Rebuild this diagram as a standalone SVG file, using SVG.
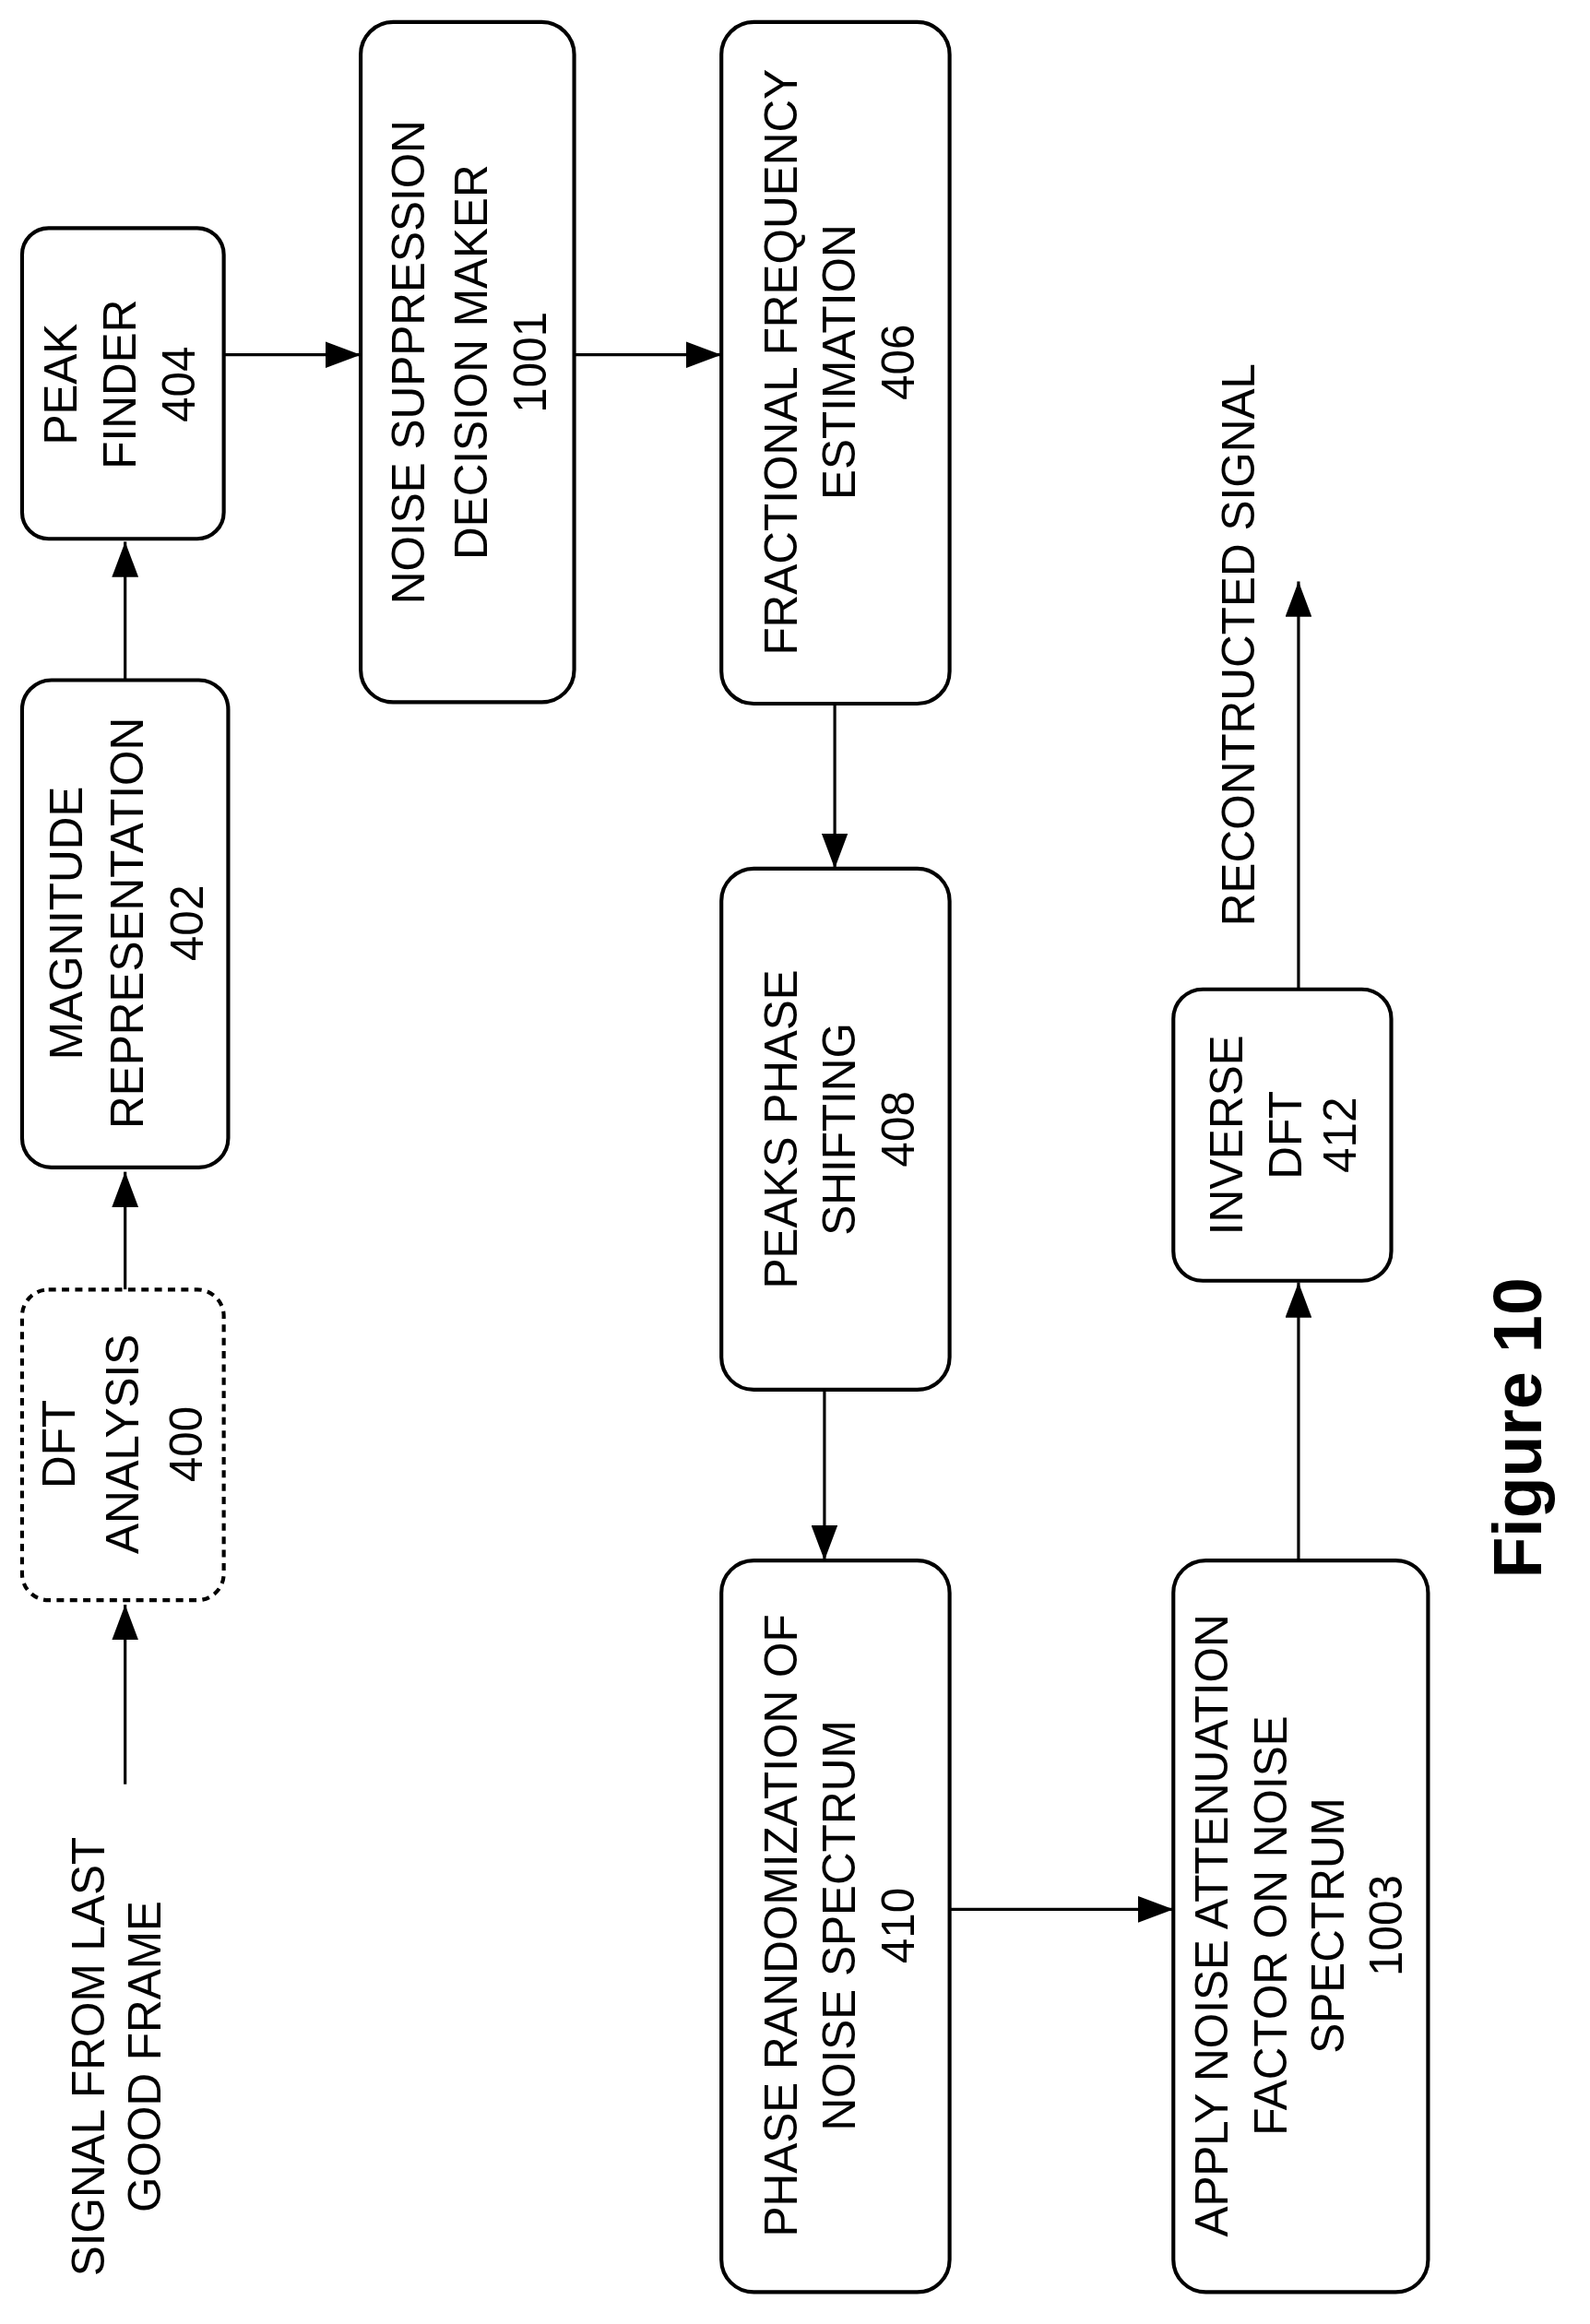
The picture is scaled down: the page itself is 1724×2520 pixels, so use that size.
<svg xmlns="http://www.w3.org/2000/svg" width="1724" height="2520" viewBox="0 0 1724 2520">
<style>
.box{fill:#fff;stroke:#000;stroke-width:2.6}
.dash{stroke-dasharray:5 4}
.t{font-family:"Liberation Sans",Arial,sans-serif;font-size:31px;fill:#000}
.c{stroke:#000;stroke-width:2;fill:none}
</style>
<defs>
<marker id="a" markerUnits="userSpaceOnUse" markerWidth="26" markerHeight="18" refX="24" refY="9" orient="auto">
<path d="M0,0 L24,9 L0,18 z" fill="#000"/>
</marker>
</defs>
<rect width="1724" height="2520" fill="#fff"/>
<g transform="scale(1.5963)">
<g id="connectors">
<line class="c" x1="85" y1="1212" x2="85" y2="1090" marker-end="url(#a)"/>
<line class="c" x1="85" y1="876" x2="85" y2="796" marker-end="url(#a)"/>
<line class="c" x1="85" y1="462" x2="85" y2="368" marker-end="url(#a)"/>
<line class="c" x1="152" y1="241" x2="245" y2="241" marker-end="url(#a)"/>
<line class="c" x1="390" y1="241" x2="490" y2="241" marker-end="url(#a)"/>
<line class="c" x1="567" y1="478" x2="567" y2="590" marker-end="url(#a)"/>
<line class="c" x1="560" y1="944" x2="560" y2="1060" marker-end="url(#a)"/>
<line class="c" x1="645" y1="1297" x2="797" y2="1297" marker-end="url(#a)"/>
<line class="c" x1="882" y1="1060" x2="882" y2="871" marker-end="url(#a)"/>
<line class="c" x1="882" y1="672" x2="882" y2="395" marker-end="url(#a)"/>
</g>
<g id="n400"><rect class="box dash" x="15" y="876" width="137" height="211" rx="18"/>
<text class="t" text-anchor="middle" transform="translate(0,981) rotate(-90)"><tspan x="0" y="51">DFT</tspan><tspan x="0" y="94">ANALYSIS</tspan><tspan x="0" y="137">400</tspan></text></g>
<g id="n402"><rect class="box" x="15" y="462" width="140" height="331" rx="20"/>
<text class="t" text-anchor="middle" transform="translate(0,627) rotate(-90)"><tspan x="0" y="56">MAGNITUDE</tspan><tspan x="0" y="97">REPRESENTATION</tspan><tspan x="0" y="138">402</tspan></text></g>
<g id="n404"><rect class="box" x="15" y="155" width="137" height="211" rx="18"/>
<text class="t" text-anchor="middle" transform="translate(0,261) rotate(-90)"><tspan x="0" y="52">PEAK</tspan><tspan x="0" y="92">FINDER</tspan><tspan x="0" y="132">404</tspan></text></g>
<g id="n1001"><rect class="box" x="245" y="15" width="145" height="462" rx="22"/>
<text class="t" text-anchor="middle" transform="translate(0,246) rotate(-90)"><tspan x="0" y="288">NOISE SUPPRESSION</tspan><tspan x="0" y="331">DECISION MAKER</tspan><tspan x="0" y="371">1001</tspan></text></g>
<g id="n406"><rect class="box" x="490" y="15" width="155" height="463" rx="22"/>
<text class="t" text-anchor="middle" transform="translate(0,246) rotate(-90)"><tspan x="0" y="541">FRACTIONAL FREQUENCY</tspan><tspan x="0" y="581">ESTIMATION</tspan><tspan x="0" y="621">406</tspan></text></g>
<g id="n408"><rect class="box" x="490" y="590" width="155" height="354" rx="22"/>
<text class="t" text-anchor="middle" transform="translate(0,767) rotate(-90)"><tspan x="0" y="541">PEAKS PHASE</tspan><tspan x="0" y="581">SHIFTING</tspan><tspan x="0" y="621">408</tspan></text></g>
<g id="n410"><rect class="box" x="490" y="1060" width="155" height="497" rx="22"/>
<text class="t" text-anchor="middle" transform="translate(0,1308) rotate(-90)"><tspan x="0" y="541">PHASE RANDOMIZATION OF</tspan><tspan x="0" y="581">NOISE SPECTRUM</tspan><tspan x="0" y="621">410</tspan></text></g>
<g id="n1003"><rect class="box" x="797" y="1060" width="173" height="497" rx="22"/>
<text class="t" text-anchor="middle" transform="translate(0,1308) rotate(-90)"><tspan x="0" y="834">APPLY NOISE ATTENUATION</tspan><tspan x="0" y="874">FACTOR ON NOISE</tspan><tspan x="0" y="913">SPECTRUM</tspan><tspan x="0" y="952">1003</tspan></text></g>
<g id="n412"><rect class="box" x="797" y="672" width="148" height="198" rx="20"/>
<text class="t" text-anchor="middle" transform="translate(0,771) rotate(-90)"><tspan x="0" y="844">INVERSE</tspan><tspan x="0" y="884">DFT</tspan><tspan x="0" y="921">412</tspan></text></g>
<g id="input"><text class="t" text-anchor="middle" transform="translate(0,1397) rotate(-90)"><tspan x="0" y="71">SIGNAL FROM LAST</tspan><tspan x="0" y="109">GOOD FRAME</tspan></text></g>
<g id="output"><text class="t" text-anchor="middle" transform="translate(0,438) rotate(-90)"><tspan x="0" y="852">RECONTRUCTED SIGNAL</tspan></text></g>
<text font-family="Liberation Sans,Arial,sans-serif" font-weight="bold" font-size="46" text-anchor="middle" transform="translate(0,970) rotate(-90)"><tspan x="0" y="1047">Figure 10</tspan></text>
</g>
</svg>
